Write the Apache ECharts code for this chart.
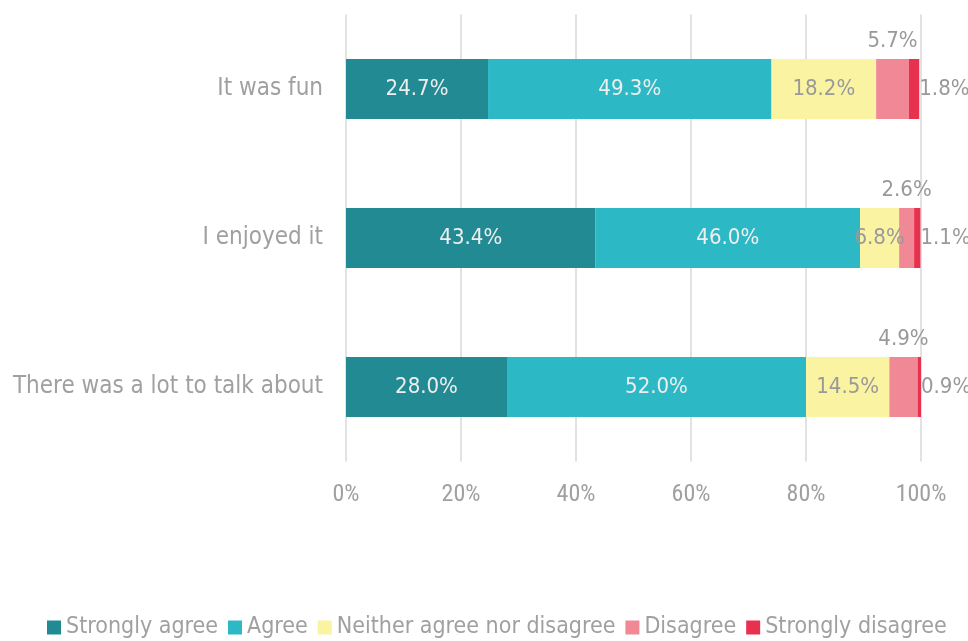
<!DOCTYPE html>
<html>
<head>
<meta charset="utf-8">
<script src="https://cdn.jsdelivr.net/npm/echarts@6/dist/echarts.min.js"></script>
<style>
  html, body { margin: 0; padding: 0; background: #fff; }
  #chart { width: 968px; height: 641px; }
</style>
</head>
<body>
<div id="chart"></div>
<script>
// Survey statements, top to bottom
const categories = ['It was fun', 'I enjoyed it', 'There was a lot to talk about'];

// Response shares (%) per statement
const stronglyAgree = [24.7, 43.4, 28.0];
const agree = [49.3, 46.0, 52.0];
const neither = [18.2, 6.8, 14.5];
const disagree = [5.7, 2.6, 4.9];
const stronglyDisagree = [1.8, 1.1, 0.9];

const seriesNames = ['Strongly agree', 'Agree', 'Neither agree nor disagree', 'Disagree', 'Strongly disagree'];
const xTicks = [0, 20, 40, 60, 80, 100];

const FONT = '"DejaVu Sans Condensed", "DejaVu Sans", sans-serif';
const AXIS_FONT = '"Roboto Condensed", "DejaVu Sans Condensed", sans-serif';
const GREY = '#a0a0a0';
const LABEL_GREY = '#999999';
const colors = ['#218a93', '#2db8c6', '#f9f3a2', '#f08896', '#e8304f'];

function fmt(p) { return p.value.toFixed(1) + '%'; }

function makeSeries(name, data, color, label) {
  return {
    name: name,
    type: 'bar',
    stack: 'total',
    barWidth: 60,
    data: data,
    itemStyle: { color: color },
    label: Object.assign({
      show: true,
      formatter: fmt,
      fontFamily: FONT,
      fontSize: 22
    }, label)
  };
}

const chart = echarts.init(document.getElementById('chart'), null, { renderer: 'canvas' });
chart.setOption({
  animation: false,
  textStyle: { fontFamily: FONT },
  grid: { left: 346, right: 47, top: 14.5, bottom: 179.5, containLabel: false },
  xAxis: {
    type: 'value',
    min: 0,
    max: 100,
    interval: 20,
    axisLine: { show: false },
    axisTick: { show: false },
    splitLine: { lineStyle: { color: '#e2e2e2', width: 2 } },
    axisLabel: {
      color: GREY,
      fontFamily: AXIS_FONT,
      fontSize: 24,
      margin: 21,
      formatter: v => (xTicks.includes(v) ? v + '%' : '')
    }
  },
  yAxis: {
    type: 'category',
    inverse: true,
    data: categories,
    axisLine: { show: false },
    axisTick: { show: false },
    splitLine: { show: false },
    axisLabel: { color: GREY, fontFamily: FONT, fontSize: 24, margin: 23 }
  },
  legend: {
    top: 616,
    left: 47,
    width: 921,
    padding: 0,
    itemWidth: 14,
    itemHeight: 14,
    itemGap: 10,
    icon: 'rect',
    textStyle: { color: GREY, fontFamily: FONT, fontSize: 23, padding: [0, 0, 0, 0] },
    data: seriesNames
  },
  series: [
    makeSeries(seriesNames[0], stronglyAgree, colors[0], { position: 'inside', color: '#eeeeee' }),
    makeSeries(seriesNames[1], agree, colors[1], { position: 'inside', color: '#eeeeee' }),
    makeSeries(seriesNames[2], neither, colors[2], { position: 'inside', color: LABEL_GREY }),
    makeSeries(seriesNames[3], disagree, colors[3], { position: 'top', distance: 7, color: LABEL_GREY }),
    makeSeries(seriesNames[4], stronglyDisagree, colors[4], { position: 'right', distance: 0, color: LABEL_GREY })
  ]
});
</script>
</body>
</html>
